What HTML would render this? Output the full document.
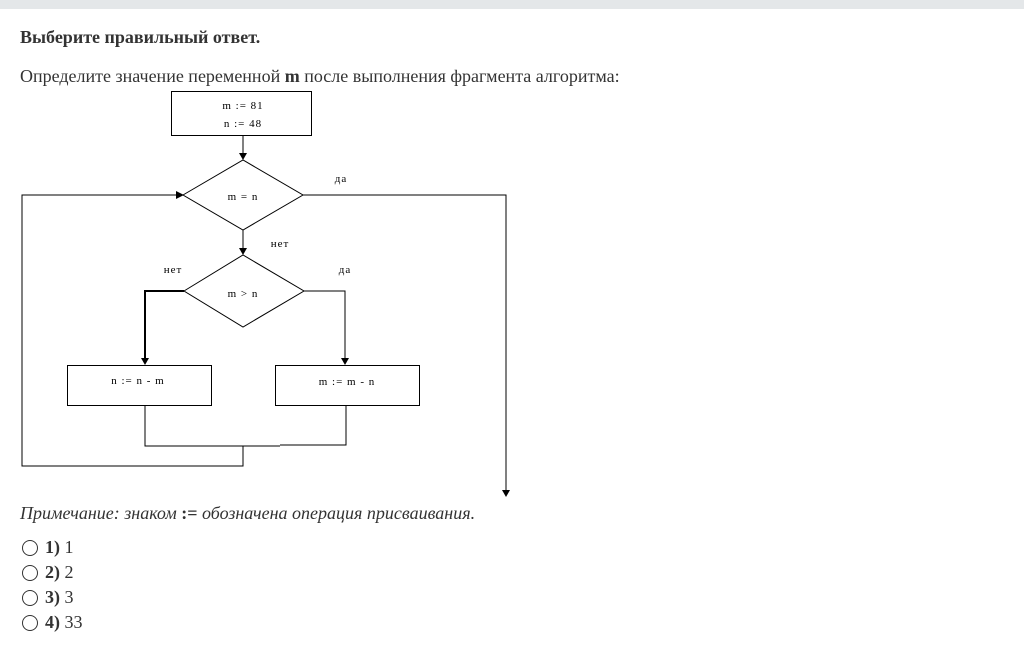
<!DOCTYPE html>
<html><head><meta charset="utf-8"><style>
body{margin:0;width:1024px;height:662px;background:#fff;font-family:"Liberation Serif",serif;color:#333;position:relative;overflow:hidden}
.bar{position:absolute;left:0;top:0;width:1024px;height:9px;background:#e4e7e9}
.t{position:absolute;white-space:nowrap}
.r{position:absolute;left:22px;width:14px;height:14px;border:1px solid #333;border-radius:50%}
svg text{font-family:"Liberation Serif",serif;font-size:11px;fill:#000;letter-spacing:1px}
</style></head><body>
<div class="bar"></div>
<div class="t" style="left:20px;top:27px;font-size:18px;font-weight:bold">Выберите правильный ответ.</div>
<div class="t" style="left:20px;top:66px;font-size:18px">Определите значение переменной <b>m</b> после выполнения фрагмента алгоритма:</div>
<svg style="position:absolute;left:0;top:0" width="1024" height="662">
<g stroke="#000" stroke-width="1" fill="none">
<rect x="171.5" y="91.5" width="140" height="44"/>
<line x1="243" y1="136" x2="243" y2="156"/>
<polygon points="183,195 243,160 303,195 243,230"/>
<polyline points="303,195 506,195 506,490"/>
<polyline points="181,195 22,195 22,466 243,466 243,446"/>
<line x1="243" y1="230" x2="243" y2="251"/>
<polygon points="184,291 243,255 304,291 243,327"/>
<polyline points="184,291 145,291 145,359" stroke-width="2"/>
<polyline points="304,291 345,291 345,359"/>
<rect x="67.5" y="365.5" width="144" height="40"/>
<rect x="275.5" y="365.5" width="144" height="40"/>
<polyline points="145,405 145,446 280,446"/>
<polyline points="280,445 346,445 346,405"/>
</g>
<g fill="#000">
<polygon points="239,153 247,153 243,160"/>
<polygon points="176,191 176,199 184,195"/>
<polygon points="239,248 247,248 243,255"/>
<polygon points="141,358 149,358 145,365"/>
<polygon points="341,358 349,358 345,365"/>
<polygon points="502,490 510,490 506,497"/>
</g>
<text x="243" y="109" text-anchor="middle">m := 81</text>
<text x="243" y="127" text-anchor="middle">n := 48</text>
<text x="243" y="200" text-anchor="middle">m = n</text>
<text x="243" y="297" text-anchor="middle">m &gt; n</text>
<text x="341" y="182" text-anchor="middle">да</text>
<text x="280" y="247" text-anchor="middle">нет</text>
<text x="173" y="273" text-anchor="middle">нет</text>
<text x="345" y="273" text-anchor="middle">да</text>
<text x="138" y="384" text-anchor="middle">n := n - m</text>
<text x="347" y="385" text-anchor="middle">m := m - n</text>
</svg>
<div class="t" style="left:20px;top:503px;font-size:18px;font-style:italic">Примечание: знаком <b style="font-style:normal">:=</b> обозначена операция присваивания.</div>
<div class="r" style="top:540px"></div><div class="t" style="left:45px;top:537px;font-size:18px"><b>1)</b> 1</div>
<div class="r" style="top:565px"></div><div class="t" style="left:45px;top:562px;font-size:18px"><b>2)</b> 2</div>
<div class="r" style="top:590px"></div><div class="t" style="left:45px;top:587px;font-size:18px"><b>3)</b> 3</div>
<div class="r" style="top:615px"></div><div class="t" style="left:45px;top:612px;font-size:18px"><b>4)</b> 33</div>
</body></html>
